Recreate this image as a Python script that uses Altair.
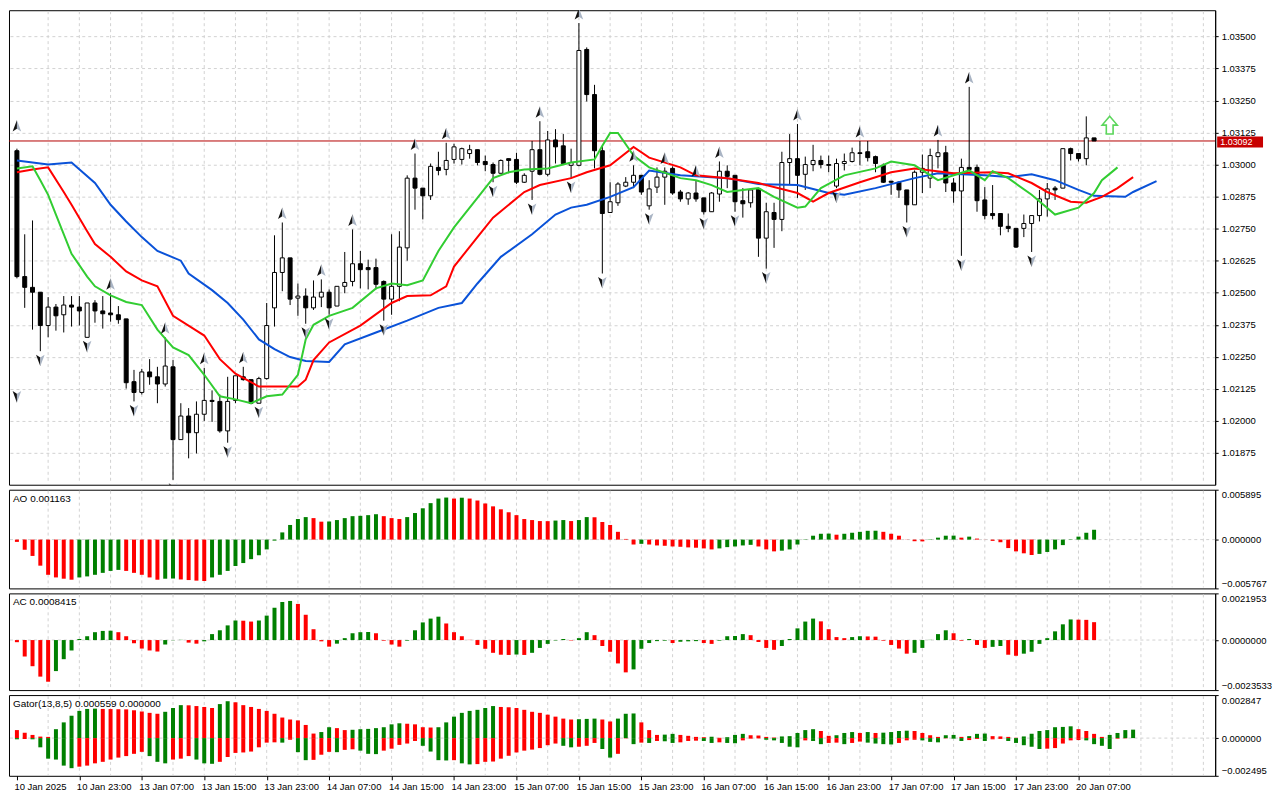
import altair as alt
import pandas as pd

FONT = "Liberation Sans"
GREEN = "#008000"
RED = "#ff0000"

DATE_LABELS = ["10 Jan 2025", "10 Jan 23:00", "13 Jan 07:00", "13 Jan 15:00", "13 Jan 23:00",
               "14 Jan 07:00", "14 Jan 15:00", "14 Jan 23:00", "15 Jan 07:00", "15 Jan 15:00",
               "15 Jan 23:00", "16 Jan 07:00", "16 Jan 15:00", "16 Jan 23:00", "17 Jan 07:00",
               "17 Jan 15:00", "17 Jan 23:00", "20 Jan 07:00"]

OPEN = [1.03054, 1.02563, 1.02521, 1.02502, 1.02372, 1.02444, 1.02414, 1.02452, 1.02444, 1.02326,
        1.02460, 1.02429, 1.02421, 1.02414, 1.02398, 1.02153, 1.02111, 1.02191, 1.02172, 1.02144,
        1.02211, 1.01927, 1.02019, 1.01954, 1.02026, 1.02080, 1.02076, 1.01961, 1.02080, 1.02172,
        1.02161, 1.02069, 1.02165, 1.02441, 1.02579, 1.02636, 1.02479, 1.02487, 1.02441, 1.02483,
        1.02502, 1.02448, 1.02525, 1.02544, 1.02613, 1.02598, 1.02598, 1.02544, 1.02475, 1.02525,
        1.02675, 1.02947, 1.02908, 1.02878, 1.02989, 1.02981, 1.03020, 1.03020, 1.03043, 1.03058,
        1.03012, 1.03000, 1.02966, 1.03023, 1.03020, 1.02931, 1.02974, 1.03058, 1.02962, 1.03096,
        1.03073, 1.02997, 1.02997, 1.03449, 1.03273, 1.03054, 1.02813, 1.02851, 1.02916, 1.02931,
        1.02958, 1.02839, 1.02912, 1.02951, 1.02985, 1.02893, 1.02866, 1.02889, 1.02870, 1.02816,
        1.02885, 1.02974, 1.02958, 1.02859, 1.02851, 1.02905, 1.02713, 1.02813, 1.02786, 1.03008,
        1.03023, 1.02962, 1.03000, 1.03016, 1.03000, 1.02916, 1.03004, 1.03012, 1.03046, 1.03050,
        1.03031, 1.02997, 1.02935, 1.02931, 1.02901, 1.02843, 1.02970, 1.02947, 1.03031, 1.03046,
        1.02928, 1.02897, 1.02989, 1.02989, 1.02862, 1.02809, 1.02809, 1.02759, 1.02751, 1.02751,
        1.02770, 1.02801, 1.02866, 1.02908, 1.02908, 1.03062, 1.03043, 1.03023, 1.03104]

HIGH = [1.03062, 1.02728, 1.02782, 1.02502, 1.02483, 1.02456, 1.02487, 1.02487, 1.02487, 1.02460,
        1.02471, 1.02487, 1.02498, 1.02448, 1.02398, 1.02199, 1.02203, 1.02241, 1.02211, 1.02326,
        1.02237, 1.02069, 1.02050, 1.02076, 1.02207, 1.02119, 1.02103, 1.02172, 1.02176, 1.02211,
        1.02161, 1.02172, 1.02460, 1.02724, 1.02774, 1.02636, 1.02536, 1.02517, 1.02548, 1.02552,
        1.02513, 1.02525, 1.02659, 1.02747, 1.02663, 1.02629, 1.02633, 1.02548, 1.02728, 1.02740,
        1.02958, 1.03043, 1.02908, 1.03004, 1.03050, 1.03085, 1.03081, 1.03066, 1.03077, 1.03058,
        1.03035, 1.03008, 1.03020, 1.03023, 1.03046, 1.02966, 1.03092, 1.03169, 1.03131, 1.03138,
        1.03119, 1.03062, 1.03552, 1.03457, 1.03311, 1.03073, 1.02931, 1.02931, 1.02951, 1.02997,
        1.02958, 1.02939, 1.02989, 1.02989, 1.02993, 1.02901, 1.02893, 1.02939, 1.02870, 1.02893,
        1.03012, 1.02997, 1.02958, 1.02908, 1.02901, 1.02908, 1.02851, 1.02851, 1.03050, 1.03119,
        1.03158, 1.03031, 1.03077, 1.03035, 1.03035, 1.03023, 1.03043, 1.03066, 1.03092, 1.03092,
        1.03035, 1.03004, 1.02935, 1.02935, 1.02901, 1.02977, 1.03039, 1.03062, 1.03096, 1.03073,
        1.02947, 1.03023, 1.03303, 1.03000, 1.02912, 1.02920, 1.02809, 1.02809, 1.02751, 1.02805,
        1.02801, 1.02901, 1.02928, 1.02916, 1.03062, 1.03066, 1.03043, 1.03188, 1.03104]

LOW = [1.02556, 1.02441, 1.02356, 1.02272, 1.02326, 1.02352, 1.02345, 1.02368, 1.02372, 1.02326,
       1.02383, 1.02360, 1.02387, 1.02379, 1.02126, 1.02076, 1.02103, 1.02141, 1.02069, 1.02134,
       1.01770, 1.01927, 1.01854, 1.01873, 1.02000, 1.01996, 1.01954, 1.01915, 1.02069, 1.02157,
       1.02065, 1.02069, 1.02161, 1.02368, 1.02506, 1.02452, 1.02410, 1.02379, 1.02433, 1.02444,
       1.02414, 1.02448, 1.02498, 1.02525, 1.02517, 1.02513, 1.02513, 1.02391, 1.02414, 1.02467,
       1.02625, 1.02824, 1.02786, 1.02862, 1.02958, 1.02958, 1.03004, 1.03000, 1.03023, 1.02997,
       1.02974, 1.02931, 1.02966, 1.02966, 1.02924, 1.02928, 1.02862, 1.02958, 1.02954, 1.03004,
       1.03004, 1.02947, 1.02993, 1.03246, 1.02985, 1.02575, 1.02813, 1.02839, 1.02912, 1.02908,
       1.02882, 1.02824, 1.02889, 1.02843, 1.02882, 1.02855, 1.02843, 1.02855, 1.02805, 1.02816,
       1.02855, 1.02908, 1.02816, 1.02793, 1.02832, 1.02640, 1.02594, 1.02675, 1.02740, 1.02924,
       1.02870, 1.02901, 1.02974, 1.02985, 1.02970, 1.02908, 1.02977, 1.03008, 1.02997, 1.03012,
       1.02970, 1.02928, 1.02882, 1.02870, 1.02774, 1.02843, 1.02889, 1.02908, 1.02985, 1.02893,
       1.02851, 1.02644, 1.02977, 1.02816, 1.02786, 1.02786, 1.02724, 1.02736, 1.02675, 1.02717,
       1.02659, 1.02778, 1.02797, 1.02862, 1.02908, 1.03016, 1.03012, 1.02997, 1.03092]

CLOSE = [1.02563, 1.02521, 1.02502, 1.02372, 1.02444, 1.02410, 1.02452, 1.02444, 1.02429, 1.02460,
         1.02429, 1.02418, 1.02414, 1.02395, 1.02149, 1.02111, 1.02191, 1.02172, 1.02144, 1.02214,
         1.01927, 1.02019, 1.01954, 1.02026, 1.02080, 1.02076, 1.01961, 1.02076, 1.02176, 1.02161,
         1.02069, 1.02165, 1.02372, 1.02579, 1.02636, 1.02475, 1.02487, 1.02441, 1.02483, 1.02502,
         1.02441, 1.02525, 1.02540, 1.02613, 1.02590, 1.02590, 1.02533, 1.02475, 1.02525, 1.02678,
         1.02947, 1.02908, 1.02878, 1.02993, 1.02977, 1.03016, 1.03069, 1.03062, 1.03058, 1.03008,
         1.03000, 1.02966, 1.03016, 1.03016, 1.02931, 1.02958, 1.03058, 1.02962, 1.03096, 1.03069,
         1.03004, 1.03008, 1.03445, 1.03273, 1.03054, 1.02809, 1.02855, 1.02924, 1.02931, 1.02958,
         1.02893, 1.02905, 1.02951, 1.02974, 1.02889, 1.02866, 1.02889, 1.02866, 1.02816, 1.02889,
         1.02974, 1.02954, 1.02855, 1.02847, 1.02901, 1.02713, 1.02816, 1.02786, 1.03008, 1.03023,
         1.02958, 1.03000, 1.03016, 1.03000, 1.02997, 1.03004, 1.03012, 1.03046, 1.03043, 1.03027,
         1.03004, 1.02931, 1.02931, 1.02901, 1.02843, 1.02970, 1.02985, 1.03035, 1.03046, 1.02928,
         1.02897, 1.02989, 1.02981, 1.02859, 1.02801, 1.02801, 1.02759, 1.02751, 1.02678, 1.02770,
         1.02801, 1.02866, 1.02905, 1.02901, 1.03062, 1.03043, 1.03023, 1.03104, 1.03092]

# Alligator lines (bar index, price)
JAW_I = [0, 4, 7, 10, 12, 14, 16, 18, 21, 22, 25, 27, 29, 31, 33, 35, 37, 40, 42, 46, 50, 54, 57,
         59, 62, 66, 69, 71, 73, 76, 79, 81, 85, 91, 95, 100, 104, 106, 110, 115, 118, 124, 127,
         130, 133, 136, 138, 142, 143, 146]
JAW_P = [1.03016, 1.03000, 1.03008, 1.02928, 1.02843, 1.02778, 1.02717, 1.02663, 1.02625, 1.02575,
         1.02510, 1.02460, 1.02395, 1.02318, 1.02280, 1.02249, 1.02234, 1.02230, 1.02299, 1.02345,
         1.02391, 1.02441, 1.02460, 1.02536, 1.02640, 1.02728, 1.02805, 1.02832, 1.02843, 1.02874,
         1.02912, 1.02977, 1.02958, 1.02947, 1.02924, 1.02920, 1.02889, 1.02882, 1.02908, 1.02947,
         1.02966, 1.02958, 1.02951, 1.02962, 1.02939, 1.02901, 1.02878, 1.02874, 1.02893, 1.02935]
TEETH_I = [0, 2, 4, 6, 7, 9, 10, 12, 14, 16, 18, 20, 23, 24, 26, 28, 31, 34, 36, 37, 38, 40, 44, 48,
           50, 53, 55, 56, 59, 61, 65, 67, 71, 73, 76, 79, 81, 85, 87, 91, 95, 100, 102, 104, 108,
           112, 115, 120, 125, 127, 130, 132, 135, 137, 139, 141, 143]
TEETH_P = [1.02970, 1.02981, 1.02989, 1.02893, 1.02843, 1.02740, 1.02690, 1.02640, 1.02583, 1.02548,
           1.02525, 1.02410, 1.02352, 1.02333, 1.02241, 1.02184, 1.02134, 1.02134, 1.02134, 1.02161,
           1.02237, 1.02306, 1.02372, 1.02460, 1.02487, 1.02490, 1.02525, 1.02602, 1.02717, 1.02793,
           1.02893, 1.02920, 1.02947, 1.02970, 1.02997, 1.03069, 1.03027, 1.02989, 1.02958, 1.02947,
           1.02928, 1.02889, 1.02855, 1.02889, 1.02931, 1.02970, 1.02985, 1.02966, 1.02970, 1.02966,
           1.02928, 1.02893, 1.02855, 1.02851, 1.02874, 1.02908, 1.02951]
LIPS_I = [0, 2, 3, 4, 5, 7, 9, 10, 12, 14, 16, 18, 20, 22, 24, 26, 28, 30, 32, 34, 36, 37, 38, 40,
          43, 46, 48, 50, 52, 54, 56, 59, 61, 63, 65, 68, 71, 74, 75, 76, 77, 79, 81, 85, 87, 89,
          91, 93, 95, 97, 100, 101, 103, 106, 110, 112, 115, 118, 122, 124, 125, 127, 130, 133,
          136, 138, 139, 141]
LIPS_P = [1.02985, 1.02993, 1.02939, 1.02882, 1.02805, 1.02652, 1.02563, 1.02525, 1.02490, 1.02464,
          1.02452, 1.02356, 1.02287, 1.02257, 1.02180, 1.02096, 1.02084, 1.02069, 1.02096, 1.02103,
          1.02180, 1.02318, 1.02375, 1.02410, 1.02441, 1.02517, 1.02536, 1.02529, 1.02548, 1.02663,
          1.02755, 1.02870, 1.02947, 1.02970, 1.02981, 1.02985, 1.03008, 1.03020, 1.03073, 1.03123,
          1.03123, 1.03035, 1.02989, 1.02947, 1.02939, 1.02920, 1.02893, 1.02901, 1.02908, 1.02874,
          1.02832, 1.02836, 1.02908, 1.02958, 1.02985, 1.03012, 1.02997, 1.02939, 1.02977, 1.02939,
          1.02974, 1.02947, 1.02882, 1.02805, 1.02832, 1.02889, 1.02939, 1.02989]

UP_FRACTALS = [12, 19, 24, 29, 34, 39, 43, 51, 55, 67, 72, 79, 83, 87, 90, 100, 108, 118, 122]
DOWN_FRACTALS = [3, 9, 15, 20, 27, 31, 37, 40, 47, 61, 66, 71, 75, 81, 88, 92, 96, 105, 114, 121, 130]
EDGE_UP_P = 1.03115
EDGE_DOWN_P = 1.02130

SIGNAL_I = [140]
SIGNAL_P = [1.03154]

AO = [-0.00027, -0.00119, -0.00193, -0.00308, -0.00416, -0.00447, -0.00462, -0.00474, -0.00447, -0.00435,
      -0.00416, -0.00393, -0.00370, -0.00358, -0.00370, -0.00393, -0.00416, -0.00447, -0.00474, -0.00462,
      -0.00460, -0.00471, -0.00478, -0.00485, -0.00489, -0.00447, -0.00416, -0.00370, -0.00312, -0.00277,
      -0.00231, -0.00185, -0.00116, -0.00012, 0.00085, 0.00173, 0.00243, 0.00266, 0.00254, 0.00212,
      0.00214, 0.00231, 0.00254, 0.00277, 0.00281, 0.00289, 0.00300, 0.00277, 0.00254, 0.00243,
      0.00266, 0.00314, 0.00370, 0.00431, 0.00485, 0.00497, 0.00485, 0.00495, 0.00485, 0.00462,
      0.00427, 0.00393, 0.00358, 0.00323, 0.00289, 0.00243, 0.00231, 0.00219, 0.00218, 0.00225,
      0.00231, 0.00219, 0.00231, 0.00266, 0.00264, 0.00208, 0.00173, 0.00092, 0.00008, -0.00058,
      -0.00050, -0.00058, -0.00069, -0.00073, -0.00081, -0.00085, -0.00092, -0.00096, -0.00104, -0.00116,
      -0.00104, -0.00089, -0.00081, -0.00069, -0.00062, -0.00081, -0.00116, -0.00139, -0.00131, -0.00116,
      -0.00058, -0.00004, 0.00046, 0.00069, 0.00071, 0.00058, 0.00069, 0.00081, 0.00092, 0.00104,
      0.00105, 0.00092, 0.00069, 0.00046, 0.00002, -0.00019, -0.00021, -0.00004, 0.00023, 0.00046,
      0.00047, 0.00023, 0.00035, 0.00012, 0.00001, -0.00015, -0.00031, -0.00100, -0.00139, -0.00162,
      -0.00181, -0.00169, -0.00146, -0.00116, -0.00065, -0.00004, 0.00035, 0.00081, 0.001163]

AC = [-0.00010, -0.00077, -0.00123, -0.00172, -0.00196, -0.00146, -0.00090, -0.00049, 0.00005, 0.00018,
      0.00037, 0.00043, 0.00044, 0.00037, 0.00018, -0.00015, -0.00040, -0.00049, -0.00054, -0.00021,
      -0.00001, 0.00001, -0.00012, -0.00017, -0.00006, 0.00028, 0.00046, 0.00069, 0.00092, 0.00091,
      0.00087, 0.00092, 0.00115, 0.00152, 0.00179, 0.00184, 0.00170, 0.00119, 0.00051, -0.00006,
      -0.00031, -0.00017, 0.00009, 0.00032, 0.00037, 0.00038, 0.00032, -0.00003, -0.00021, -0.00031,
      -0.00003, 0.00046, 0.00083, 0.00101, 0.00110, 0.00078, 0.00037, 0.00018, 0.00001, -0.00023,
      -0.00041, -0.00060, -0.00069, -0.00070, -0.00068, -0.00070, -0.00060, -0.00037, -0.00018, -0.00002,
      0.00005, -0.00002, 0.00009, 0.00037, 0.00023, -0.00028, -0.00055, -0.00110, -0.00152, -0.00138,
      -0.00041, -0.00014, -0.00005, -0.00003, -0.00014, -0.00008, -0.00006, -0.00005, -0.00014, -0.00018,
      -0.00003, 0.00018, 0.00019, 0.00028, 0.00023, -0.00009, -0.00037, -0.00046, -0.00028, 0.00005,
      0.00055, 0.00087, 0.00101, 0.00088, 0.00051, 0.00014, 0.00009, 0.00014, 0.00018, 0.00017,
      0.00016, -0.00003, -0.00023, -0.00040, -0.00064, -0.00060, -0.00037, 0.00001, 0.00028, 0.00046,
      0.00032, -0.00003, 0.00005, -0.00023, -0.00037, -0.00032, -0.00028, -0.00069, -0.00074, -0.00064,
      -0.00055, -0.00018, 0.00009, 0.00041, 0.00074, 0.00097, 0.00096, 0.00095, 0.0008415]

GATOR_UP = [0.00053, 0.00036, 0.00021, 0.00010, 0.00008, 0.00059, 0.00104, 0.00148, 0.00180, 0.00193,
            0.00195, 0.00193, 0.00192, 0.00191, 0.00190, 0.00184, 0.00176, 0.00167, 0.00161, 0.00174,
            0.00199, 0.00218, 0.00217, 0.00212, 0.00206, 0.00199, 0.00225, 0.00244, 0.00237, 0.00218,
            0.00206, 0.00193, 0.00180, 0.00161, 0.00136, 0.00123, 0.00117, 0.00087, 0.00030, 0.00040,
            0.00072, 0.00066, 0.00053, 0.00055, 0.00059, 0.00061, 0.00066, 0.00072, 0.00091, 0.00098,
            0.00095, 0.00091, 0.00072, 0.00070, 0.00072, 0.00104, 0.00142, 0.00167, 0.00180, 0.00187,
            0.00199, 0.00212, 0.00206, 0.00204, 0.00199, 0.00187, 0.00174, 0.00167, 0.00155, 0.00142,
            0.00129, 0.00123, 0.00125, 0.00127, 0.00129, 0.00123, 0.00110, 0.00129, 0.00161, 0.00163,
            0.00104, 0.00053, 0.00021, 0.00023, 0.00028, 0.00021, 0.00015, 0.00008, 0.00006, 0.00009,
            0.00002, 0.00006, 0.00021, 0.00028, 0.00019, 0.00017, 0.00008, 0.00004, 0.00011, 0.00013,
            0.00034, 0.00053, 0.00059, 0.00047, 0.00015, 0.00019, 0.00034, 0.00040, 0.00034, 0.00040,
            0.00034, 0.00036, 0.00040, 0.00047, 0.00049, 0.00047, 0.00034, 0.00019, 0.00008, 0.00019,
            0.00021, 0.00008, 0.00013, 0.00028, 0.00030, 0.00013, 0.00011, 0.00008, 0.00002, 0.00011,
            0.00028, 0.00047, 0.00053, 0.00072, 0.00074, 0.00078, 0.00059, 0.00047, 0.00028, 0.00008,
            0.00021, 0.00034, 0.00053, 0.000559]

GATOR_DN = [-0.00008, -0.00006, -0.00008, -0.00061, -0.00136, -0.00142, -0.00182, -0.00199, -0.00189, -0.00182,
            -0.00167, -0.00157, -0.00142, -0.00129, -0.00119, -0.00104, -0.00091, -0.00119, -0.00157, -0.00167,
            -0.00142, -0.00136, -0.00119, -0.00142, -0.00167, -0.00170, -0.00157, -0.00125, -0.00098, -0.00095,
            -0.00089, -0.00061, -0.00030, -0.00028, -0.00030, -0.00011, -0.00093, -0.00146, -0.00144, -0.00110,
            -0.00091, -0.00093, -0.00078, -0.00074, -0.00083, -0.00104, -0.00106, -0.00083, -0.00070, -0.00045,
            -0.00036, -0.00019, -0.00051, -0.00089, -0.00146, -0.00148, -0.00146, -0.00167, -0.00174, -0.00172,
            -0.00157, -0.00155, -0.00136, -0.00117, -0.00095, -0.00083, -0.00076, -0.00066, -0.00047, -0.00036,
            -0.00051, -0.00061, -0.00057, -0.00051, -0.00032, -0.00072, -0.00129, -0.00104, -0.00002, -0.00040,
            -0.00030, -0.00032, -0.00019, -0.00021, -0.00032, -0.00028, -0.00019, -0.00017, -0.00019, -0.00032,
            -0.00028, -0.00032, -0.00034, -0.00015, -0.00004, -0.00002, -0.00011, -0.00015, -0.00032, -0.00057,
            -0.00061, -0.00015, -0.00019, -0.00040, -0.00032, -0.00030, -0.00040, -0.00032, -0.00023, -0.00030,
            -0.00036, -0.00040, -0.00042, -0.00032, -0.00015, -0.00011, -0.00015, -0.00025, -0.00028, -0.00002,
            -0.00004, -0.00019, -0.00013, -0.00006, -0.00019, -0.00008, -0.00006, -0.00019, -0.00032, -0.00047,
            -0.00057, -0.00072, -0.00070, -0.00066, -0.00036, -0.00015, -0.00013, -0.00015, -0.00040, -0.00051,
            -0.00072, -0.00004, -0.00002]

PRICE_TICKS = [1.01875, 1.02000, 1.02125, 1.02250, 1.02375, 1.02500, 1.02625, 1.02750,
               1.02875, 1.03000, 1.03125, 1.03250, 1.03375, 1.03500]
PRICE_DOMAIN = [1.01751, 1.03602]
AO_DOMAIN = [-0.005767, 0.005895]
AC_DOMAIN = [-0.0023533, 0.0021953]
GATOR_DOMAIN = [-0.002495, 0.002847]

# ---------------- layout ----------------
W = 1210
H_MAIN, H_AO, H_AC, H_GA = 476, 99, 97, 81
XS = alt.Scale(domain=[-0.375, 152.875], nice=False, zero=False)
GRID_COLOR = "#d2d2d2"


def yaxis(values, fmt, flush, grid):
    return alt.Axis(orient="right", values=values, format=fmt, title=None, grid=grid,
                    gridColor=GRID_COLOR, gridDash=[3, 3], gridWidth=1, tickSize=3,
                    tickColor="black", domainColor="black", labelColor="black", labelFont=FONT,
                    labelFontSize=9.5, labelPadding=3, labelFlush=flush, labelOverlap=False)


def updown(vals, first, use_abs=False):
    cols = [first]
    for a, b in zip(vals[:-1], vals[1:]):
        if use_abs:
            a, b = abs(a), abs(b)
        cols.append(GREEN if b > a else RED)
    return cols


grid_df = pd.DataFrame({"g": list(range(4, 153, 4))})

label_expr = "[" + ",".join("'%s'" % s for s in DATE_LABELS) + "][round(datum.value/8)]"
XAX = alt.Axis(values=list(range(0, 8 * len(DATE_LABELS), 8)), labelExpr=label_expr,
               labelAlign="left", labelOffset=-3, labelPadding=2, tickSize=4, tickColor="black",
               domain=False, grid=False, labelFont=FONT, labelFontSize=9.5, labelColor="black",
               title=None, labelOverlap=False, labelFlush=False, labelBound=False)


def vgrid(height, axis=None):
    return alt.Chart(grid_df).mark_rule(color=GRID_COLOR, strokeDash=[3, 3], strokeWidth=1).encode(
        x=alt.X("g:Q", scale=XS, axis=axis), y=alt.value(1), y2=alt.value(height - 1))


# ---------------- main price panel ----------------
YP = alt.Scale(domain=PRICE_DOMAIN, nice=False, zero=False)
YAX_MAIN = yaxis(PRICE_TICKS, ".5f", False, True)

cdf = pd.DataFrame({"i": list(range(len(OPEN))), "o": OPEN, "h": HIGH, "l": LOW, "c": CLOSE})
xenc = alt.X("i:Q", scale=XS, axis=None)
ymain = lambda f: alt.Y(f, scale=YP, axis=YAX_MAIN)

wicks = alt.Chart(cdf).mark_rule(color="black", strokeWidth=1).encode(
    x=xenc, y=ymain("l:Q"), y2="h:Q")
bodies = alt.Chart(cdf).mark_bar(size=4, stroke="black", strokeWidth=1).encode(
    x=xenc, y=ymain("o:Q"), y2="c:Q",
    fill=alt.condition("datum.c >= datum.o", alt.value("white"), alt.value("black")))


def line_layer(ii, pp, color):
    df = pd.DataFrame({"i": ii, "p": pp})
    return alt.Chart(df).mark_line(color=color, strokeWidth=2, clip=True).encode(
        x=xenc, y=ymain("p:Q"))


jaw = line_layer(JAW_I, JAW_P, "#0a52d8")
teeth = line_layer(TEETH_I, TEETH_P, "#ff0000")
lips = line_layer(LIPS_I, LIPS_P, "#32cd32")

# fractal arrows: dark left half, light right half
UP_L = "M0,-1 L0,0.45 L-0.7,0.9 Z"
UP_R = "M0,-1 L0.7,0.9 L0,0.45 Z"
DN_L = "M0,1 L0,-0.45 L-0.7,-0.9 Z"
DN_R = "M0,1 L0.7,-0.9 L0,-0.45 Z"
up_df = pd.DataFrame({"i": [0] + UP_FRACTALS, "p": [EDGE_UP_P] + [HIGH[k] for k in UP_FRACTALS]})
dn_df = pd.DataFrame({"i": [0] + DOWN_FRACTALS, "p": [EDGE_DOWN_P] + [LOW[k] for k in DOWN_FRACTALS]})


def fractal(df, shape, fill, yoff):
    return alt.Chart(df).mark_point(shape=shape, size=150, filled=True, fill=fill, strokeWidth=0,
                                    opacity=1, yOffset=yoff, clip=True).encode(
        x=xenc, y=ymain("p:Q"))


frac_layers = [fractal(up_df, UP_L, "#111111", -9), fractal(up_df, UP_R, "#a9b4c4", -9),
               fractal(dn_df, DN_L, "#111111", 9), fractal(dn_df, DN_R, "#a9b4c4", 9)]

ARROW_SHAPE = "M0,-1 L0.85,0 L0.38,0 L0.38,1 L-0.38,1 L-0.38,0 L-0.85,0 Z"
sig_df = pd.DataFrame({"i": SIGNAL_I, "p": SIGNAL_P})
signal = alt.Chart(sig_df).mark_point(shape=ARROW_SHAPE, size=320, filled=True, fill="white",
                                      stroke="#5bd65b", strokeWidth=1.6, opacity=1).encode(
    x=xenc, y=ymain("p:Q"))

last_df = pd.DataFrame({"p": [CLOSE[-1]]})
price_line = alt.Chart(last_df).mark_rule(color="#b40000", strokeWidth=1).encode(y=ymain("p:Q"))
BOX_SHAPE = "M-1,-0.24 L1,-0.24 L1,0.24 L-1,0.24 Z"
price_box = alt.Chart(last_df).mark_point(shape=BOX_SHAPE, size=2116, filled=True,
                                          fill="#c80000", strokeWidth=0, opacity=1,
                                          yOffset=1).encode(
    x=alt.value(W + 25), y=ymain("p:Q"))
price_txt = alt.Chart(last_df).mark_text(align="left", baseline="middle", color="white",
                                         font=FONT, fontSize=9, dy=1).encode(
    x=alt.value(W + 5), y=ymain("p:Q"), text=alt.Text("p:Q", format=".5f"))

main = alt.layer(vgrid(H_MAIN), price_line, wicks, bodies, jaw, teeth, lips, *frac_layers, signal,
                 price_box, price_txt).properties(width=W, height=H_MAIN)


# ---------------- indicator panels ----------------
def title_layer(text):
    return alt.Chart(pd.DataFrame({"t": [text]})).mark_text(
        align="left", baseline="top", font=FONT, fontSize=10, color="black").encode(
        x=alt.value(4), y=alt.value(4), text="t:N")


def ind_y(dom, fmt):
    return alt.Y("v:Q", scale=alt.Scale(domain=dom, nice=False, zero=False),
                 axis=yaxis([dom[0], 0, dom[1]], fmt, True, False))


def zero_layer(dom, fmt):
    return alt.Chart(pd.DataFrame({"v": [0.0]})).mark_rule(
        color=GRID_COLOR, strokeDash=[3, 3], strokeWidth=1).encode(y=ind_y(dom, fmt))


def hist_layer(vals, cols, dom, fmt, xaxis):
    df = pd.DataFrame({"i": list(range(len(vals))), "v": vals, "col": cols})
    return alt.Chart(df).mark_bar(size=4).encode(
        x=alt.X("i:Q", scale=XS, axis=xaxis), y=ind_y(dom, fmt), y2=alt.datum(0),
        color=alt.Color("col:N", scale=None))


ao_panel = alt.layer(
    vgrid(H_AO), zero_layer(AO_DOMAIN, ".6f"),
    hist_layer(AO, updown(AO, RED), AO_DOMAIN, ".6f", None),
    title_layer("AO %.6f" % AO[-1]),
).properties(width=W, height=H_AO)

ac_panel = alt.layer(
    vgrid(H_AC), zero_layer(AC_DOMAIN, ".7f"),
    hist_layer(AC, updown(AC, RED), AC_DOMAIN, ".7f", None),
    title_layer("AC %.7f" % AC[-1]),
).properties(width=W, height=H_AC)

gator_panel = alt.layer(
    vgrid(H_GA, XAX), zero_layer(GATOR_DOMAIN, ".6f"),
    hist_layer(GATOR_UP, updown(GATOR_UP, RED), GATOR_DOMAIN, ".6f", XAX),
    hist_layer(GATOR_DN, updown(GATOR_DN, GREEN, use_abs=True), GATOR_DOMAIN, ".6f", XAX),
    title_layer("Gator(13,8,5) %.6f %.6f" % (GATOR_UP[-1], 0.0)),
).properties(width=W, height=H_GA)

chart = alt.vconcat(main, ao_panel, ac_panel, gator_panel, spacing=3).properties(
    padding={"left": 0, "top": 0, "right": 0, "bottom": 0}, background="white"
).configure_view(stroke="black", strokeWidth=1)

chart.save("out.html", embed_options={"renderer": "svg", "actions": False})
